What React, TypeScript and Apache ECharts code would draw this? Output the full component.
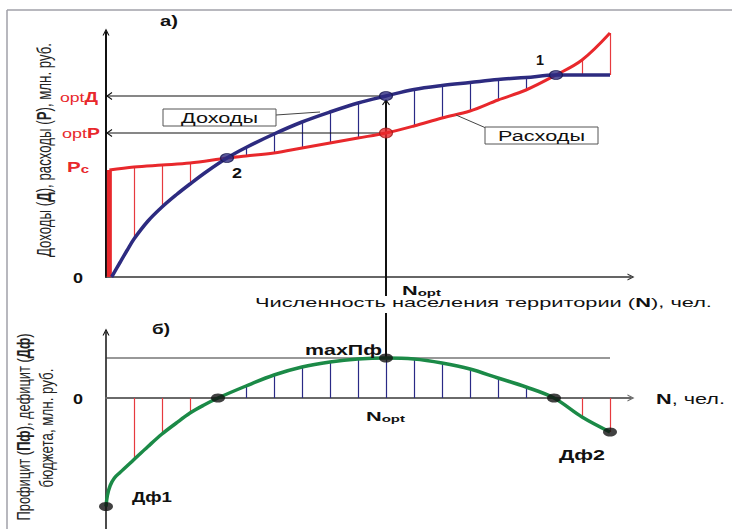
import React, { useEffect, useRef } from 'react';
import * as echarts from 'echarts';

// ---------------- data (schematic units: N in steps, money in arbitrary units) ----------------
const N_AXIS_MAX = 18.75;
const TOP_Y_MAX = 49;
const BOTTOM_Y_MIN = -26.2;
const BOTTOM_Y_MAX = 13.2;
const N_OPT = 10;

// Доходы (income) curve
const incomeCurve: [number, number][] = [
  [0.2, 0], [0.5, 2.9], [0.75, 5.3], [1, 7.6], [1.5, 11.2], [2, 14], [2.5, 16.4],
  [3, 18.6], [3.6, 21.1], [4.32, 23.8], [5, 25.9], [6, 28.6], [7, 31], [8, 33], [9, 34.8],
  [10, 36.2], [11, 37.5], [12, 38.3], [13, 38.9], [14, 39.5], [15, 39.9], [16.07, 40.4],
  [17, 40.4], [18, 40.4],
];
// Расходы (expenses) curve, starting at Pc
const expenseCurve: [number, number][] = [
  [0.12, 21.4], [1, 22], [2, 22.4], [3, 22.8], [4.32, 23.8], [5, 24.2], [6, 24.8], [7, 25.8],
  [8, 26.8], [9, 27.8], [10, 28.8], [11, 30.2], [12, 31.8], [13, 33.2], [14, 35.4], [15, 37.4],
  [16.07, 40.4], [17, 43.4], [18, 48.8],
];
// Profit / deficit curve
const balanceCurve: [number, number][] = [
  [0, -21.7], [0.05, -19.5], [0.15, -17.5], [0.3, -16], [0.5, -14.9], [1, -12.3],
  [1.5, -9.7], [2, -7.2], [2.5, -5.05], [3, -3], [3.5, -1.4], [4, 0], [5, 2.4], [6, 4.6],
  [7, 6.2], [8, 7.2], [9, 7.8], [10, 8], [11, 7.8], [12, 7], [13, 5.8], [14, 4], [15, 2.2],
  [16, 0], [17, -3.8], [18, -6.8],
];
const intersectionPoints: [number, number][] = [[4.32, 23.8], [16.07, 40.4]];
const balanceMarks: [number, number][] = [[0, -21.7], [4, 0], [10, 8], [16, 0], [18, -6.8]];
const deficitN = [1, 2, 3, 17, 18];
const surplusTopN = [5, 6, 7, 8, 9, 11, 12, 13, 14, 15];
const surplusBottomN = [5, 6, 7, 8, 9, 10, 11, 12, 13, 14, 15];

const valueAt = (curve: [number, number][], n: number) => {
  const p = curve.find((d) => d[0] === n);
  return p ? p[1] : 0;
};
const optIncome = valueAt(incomeCurve, N_OPT);
const optExpense = valueAt(expenseCurve, N_OPT);
const maxBalance = valueAt(balanceCurve, N_OPT);

// ---------------- styles ----------------
const NAVY = '#2d2b80';
const RED = '#e8282c';
const GREEN = '#1b8a47';
const FONT = '"Liberation Sans", Arial, sans-serif';
const CHEVRON = 'path://M0,10 L5,0 L10,10 L8.3,10 L5,3.4 L1.7,10 Z';

type Seg = { t: string; b?: boolean; s: number; c?: string };
let mctx: CanvasRenderingContext2D | null = null;
function measure(segs: Seg[]) {
  if (!mctx) mctx = document.createElement('canvas').getContext('2d');
  let w = 0;
  for (const g of segs) {
    mctx!.font = `${g.b ? 'bold ' : ''}${g.s}px ${FONT}`;
    w += mctx!.measureText(g.t).width;
  }
  return w;
}
function label(
  segs: Seg[], x: number, y: number, width: number,
  align: 'left' | 'right' | 'center' = 'left', rotated = false, stretch = 1.45,
) {
  const rich: any = {};
  let text = '';
  segs.forEach((g, i) => {
    rich['s' + i] = {
      fontSize: g.s, fontWeight: g.b ? 'bold' : 'normal', fontFamily: FONT,
      fill: g.c || '#111', verticalAlign: 'bottom',
    };
    text += `{s${i}|${g.t}}`;
  });
  const k = width / measure(segs);
  return {
    type: 'text', x, y, z: 100,
    rotation: rotated ? Math.PI / 2 : 0,
    scaleX: k, scaleY: rotated ? stretch : 1,
    style: { text, rich, align, verticalAlign: 'middle', fontFamily: FONT },
  };
}

const hatchSeries = (data: number[][], color: string, axis: number) => ({
  type: 'custom', xAxisIndex: axis, yAxisIndex: axis, z: 2, silent: true,
  data,
  encode: { x: 0, y: [1, 2] },
  renderItem: (_p: any, api: any) => {
    const a = api.coord([api.value(0), api.value(1)]);
    const b = api.coord([api.value(0), api.value(2)]);
    const x = Math.round(a[0]) + 0.5;
    return { type: 'line', shape: { x1: x, y1: a[1], x2: x, y2: b[1] }, style: { stroke: color, lineWidth: 1.2 } };
  },
});

const axisBase = {
  type: 'value', axisTick: { show: false }, axisLabel: { show: false }, splitLine: { show: false },
};

export default function App() {
  const ref = useRef<HTMLDivElement>(null);
  useEffect(() => {
    if (!ref.current) return;
    const chart = echarts.init(ref.current, null, { renderer: 'svg' });

    const topDeficit = deficitN.map((n) => [n, valueAt(expenseCurve, n), valueAt(incomeCurve, n)]);
    const topSurplus = surplusTopN.map((n) => [n, valueAt(expenseCurve, n), valueAt(incomeCurve, n)]);
    const botDeficit = deficitN.map((n) => [n, 0, valueAt(balanceCurve, n)]);
    const botSurplus = surplusBottomN.map((n) => [n, 0, valueAt(balanceCurve, n)]);

    const option: any = {
      animation: false,
      backgroundColor: '#fff',
      grid: [
        { left: 106, top: 32, width: 525, height: 245 },
        { left: 106, top: 332, width: 525, height: 197 },
      ],
      xAxis: [
        { ...axisBase, gridIndex: 0, min: 0, max: N_AXIS_MAX,
          axisLine: { show: true, onZero: false, symbol: ['none', CHEVRON], symbolSize: [9, 7], lineStyle: { color: '#333', width: 1.5 } } },
        { ...axisBase, gridIndex: 1, min: 0, max: N_AXIS_MAX,
          axisLine: { show: true, onZero: true, symbol: ['none', CHEVRON], symbolSize: [9, 7], lineStyle: { color: '#6a6a6a', width: 2 } } },
      ],
      yAxis: [
        { ...axisBase, gridIndex: 0, min: 0, max: TOP_Y_MAX,
          axisLine: { show: true, onZero: false, symbol: ['none', CHEVRON], symbolSize: [9, 7], lineStyle: { color: '#111', width: 2 } } },
        { ...axisBase, gridIndex: 1, min: BOTTOM_Y_MIN, max: BOTTOM_Y_MAX,
          axisLine: { show: true, onZero: false, symbol: ['none', CHEVRON], symbolSize: [9, 7], lineStyle: { color: '#111', width: 1.5 } } },
      ],
      series: [
        hatchSeries(topDeficit, '#e63a3e', 0),
        hatchSeries(topSurplus, '#2a2a86', 0),
        // opt arrows to the axis
        {
          type: 'custom', xAxisIndex: 0, yAxisIndex: 0, z: 3, silent: true,
          data: [[N_OPT, optIncome], [N_OPT, optExpense]],
          renderItem: (_p: any, api: any) => {
            const p = api.coord([api.value(0), api.value(1)]);
            const a = api.coord([0, api.value(1)]);
            return {
              type: 'group', children: [
                { type: 'line', shape: { x1: p[0], y1: p[1], x2: a[0] + 1, y2: a[1] }, style: { stroke: '#111', lineWidth: 1.1 } },
                { type: 'polyline', shape: { points: [[a[0] + 6, a[1] - 3.5], [a[0] + 1, a[1]], [a[0] + 6, a[1] + 3.5]] }, style: { stroke: '#111', lineWidth: 1.1, fill: 'none' } },
              ],
            };
          },
        },
        // Nopt vertical line (top part)
        {
          type: 'custom', xAxisIndex: 0, yAxisIndex: 0, z: 3, silent: true,
          data: [[N_OPT, optIncome]],
          renderItem: (_p: any, api: any) => {
            const t = api.coord([api.value(0), api.value(1)]);
            const b = api.coord([api.value(0), 0]);
            const ty = t[1] + 4;
            return {
              type: 'group', children: [
                { type: 'line', shape: { x1: t[0], y1: ty, x2: b[0], y2: b[1] + 19 }, style: { stroke: '#111', lineWidth: 2 } },
                { type: 'polyline', shape: { points: [[t[0] - 3.5, ty + 5], [t[0], ty], [t[0] + 3.5, ty + 5]] }, style: { stroke: '#111', lineWidth: 1.2, fill: 'none' } },
              ],
            };
          },
        },
        {
          type: 'line', xAxisIndex: 0, yAxisIndex: 0, z: 4, showSymbol: false, silent: true,
          data: [[expenseCurve[0][0], 0], expenseCurve[0]],
          lineStyle: { color: RED, width: 5 },
        },
        {
          type: 'line', xAxisIndex: 0, yAxisIndex: 0, z: 4, showSymbol: false, silent: true, smooth: 0.35,
          data: expenseCurve, lineStyle: { color: RED, width: 3 },
        },
        {
          type: 'line', xAxisIndex: 0, yAxisIndex: 0, z: 5, showSymbol: false, silent: true, smooth: 0.35,
          data: incomeCurve, lineStyle: { color: NAVY, width: 3.5 },
        },
        {
          type: 'scatter', xAxisIndex: 0, yAxisIndex: 0, z: 6, silent: true,
          data: [...intersectionPoints, [N_OPT, optIncome]],
          symbol: 'circle', symbolSize: [13, 9],
          itemStyle: { color: NAVY, borderColor: '#15154a', borderWidth: 1 },
        },
        {
          type: 'scatter', xAxisIndex: 0, yAxisIndex: 0, z: 6, silent: true,
          data: [[N_OPT, optExpense]],
          symbol: 'circle', symbolSize: [13, 10],
          itemStyle: { color: RED, borderColor: '#a01818', borderWidth: 1 },
        },
        // bottom panel
        hatchSeries(botDeficit, '#e63a3e', 1),
        hatchSeries(botSurplus, '#2a2a86', 1),
        {
          type: 'line', xAxisIndex: 1, yAxisIndex: 1, z: 3, showSymbol: false, silent: true,
          data: [[0, maxBalance], [18, maxBalance]], lineStyle: { color: '#333', width: 1.2 },
        },
        {
          type: 'custom', xAxisIndex: 1, yAxisIndex: 1, z: 3, silent: true,
          data: [[N_OPT, maxBalance]],
          renderItem: (_p: any, api: any) => {
            const b = api.coord([api.value(0), api.value(1)]);
            const t = api.coord([api.value(0), BOTTOM_Y_MAX]);
            return { type: 'line', shape: { x1: b[0], y1: b[1], x2: t[0], y2: t[1] - 19 }, style: { stroke: '#111', lineWidth: 2 } };
          },
        },
        {
          type: 'line', xAxisIndex: 1, yAxisIndex: 1, z: 4, showSymbol: false, silent: true, smooth: 0.35,
          data: balanceCurve, lineStyle: { color: GREEN, width: 3.5 },
        },
        {
          type: 'scatter', xAxisIndex: 1, yAxisIndex: 1, z: 6, silent: true,
          data: balanceMarks, symbol: 'circle', symbolSize: [14, 9],
          itemStyle: { color: '#111' },
        },
      ],
      graphic: [
        // frame
        { type: 'line', z: 1, shape: { x1: 7, y1: 10, x2: 732, y2: 10 }, style: { stroke: '#a0a0a8', lineWidth: 1.5 } },
        { type: 'line', z: 1, shape: { x1: 7, y1: 10, x2: 7, y2: 529 }, style: { stroke: '#a0a0a8', lineWidth: 1.5 } },
        // callout boxes
        { type: 'line', z: 99, shape: { x1: 276, y1: 115, x2: 320, y2: 112 }, style: { stroke: '#444', lineWidth: 1 } },
        { type: 'rect', z: 99, shape: { x: 163, y: 109, width: 113, height: 17 }, style: { fill: '#fff', stroke: '#555', lineWidth: 1 } },
        label([{ t: 'Доходы', s: 14 }], 219.5, 118, 77, 'center'),
        { type: 'line', z: 99, shape: { x1: 456, y1: 115, x2: 486, y2: 128 }, style: { stroke: '#444', lineWidth: 1 } },
        { type: 'rect', z: 99, shape: { x: 485, y: 127, width: 113, height: 17 }, style: { fill: '#fff', stroke: '#555', lineWidth: 1 } },
        label([{ t: 'Расходы', s: 14 }], 541.5, 136, 87, 'center'),
        // panel tags and numbers
        label([{ t: 'а)', s: 14, b: true }], 160, 21, 18),
        label([{ t: 'б)', s: 14, b: true }], 152, 329, 18),
        label([{ t: '0', s: 14, b: true }], 73, 278, 10),
        label([{ t: '0', s: 14, b: true }], 73, 399, 10),
        label([{ t: '1', s: 15, b: true }], 536, 60, 8),
        label([{ t: '2', s: 15, b: true }], 232, 173, 10),
        label([{ t: 'opt', s: 13, c: RED }, { t: 'Д', s: 14, b: true, c: RED }], 98, 97, 38, 'right'),
        label([{ t: 'opt', s: 13, c: RED }, { t: 'Р', s: 14, b: true, c: RED }], 100, 133, 38, 'right'),
        label([{ t: 'Р', s: 15, b: true, c: RED }, { t: 'с', s: 11, b: true, c: RED }], 67, 167, 22),
        label([{ t: 'N', s: 13, b: true }, { t: 'opt', s: 9, b: true }], 402, 291, 39),
        label([{ t: 'N', s: 13, b: true }, { t: 'opt', s: 9, b: true }], 366, 417, 39),
        label([{ t: 'maxПф', s: 14, b: true }], 305, 350, 77),
        label([{ t: 'Дф1', s: 15, b: true }], 132, 497, 40),
        label([{ t: 'Дф2', s: 15, b: true }], 559, 455, 46),
        label([{ t: 'N', s: 15, b: true }, { t: ', чел.', s: 15 }], 656, 399, 69),
        label([{ t: 'Численность населения территории (', s: 13 }, { t: 'N', s: 13, b: true }, { t: '), чел.', s: 13 }], 255, 303, 457),
        // rotated axis titles
        label([
          { t: 'Доходы (', s: 14, c: '#222' }, { t: 'Д', s: 14, b: true, c: '#222' },
          { t: '), расходы (', s: 14, c: '#222' }, { t: 'Р', s: 14, b: true, c: '#222' },
          { t: '), млн. руб.', s: 14, c: '#222' },
        ], 44, 150, 214, 'center', true),
        label([
          { t: 'Профицит (', s: 13, c: '#222' }, { t: 'Пф', s: 13, b: true, c: '#222' },
          { t: '), дефицит (', s: 13, c: '#222' }, { t: 'Дф', s: 13, b: true, c: '#222' },
          { t: ')', s: 13, c: '#222' },
        ], 23, 427, 187, 'center', true),
        label([{ t: 'бюджета, млн. руб.', s: 13, c: '#222' }], 46.5, 428, 119, 'center', true),
      ],
    };
    chart.setOption(option);
    return () => chart.dispose();
  }, []);
  return <div ref={ref} style={{ position: 'fixed', left: 0, top: 0, width: 732, height: 529 }} />;
}
